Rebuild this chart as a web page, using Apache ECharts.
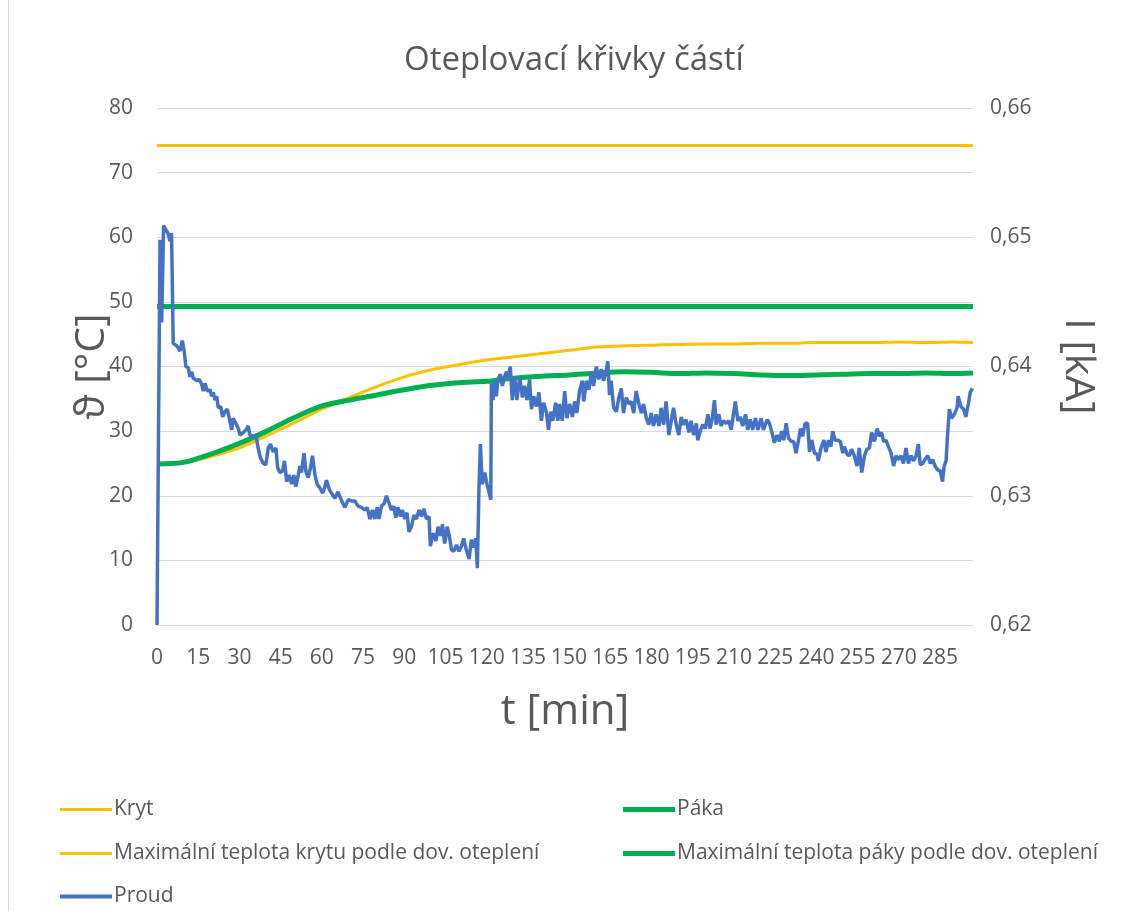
<!DOCTYPE html>
<html>
<head>
<meta charset="utf-8">
<title>Oteplovací křivky částí</title>
<script src="https://cdn.jsdelivr.net/npm/echarts@6/dist/echarts.min.js"></script>
<style>
  html, body { margin:0; padding:0; background:#fff; }
  #chart { width:1126px; height:911px; }
</style>
</head>
<body>
<div id="chart"></div>
<script type="text/javascript">
// čas pro teploty [min]
var tempTime = [0,10,20,30,40,50,60,70,80,90,100,110,120,130,140,150,160,170,180,190,200,210,220,230,240,250,260,270,280,290,297];
// teplota krytu [°C]
var krytTemp = [24.9,25.1,26.1,27.4,29.3,31.3,33.4,35.2,36.9,38.4,39.5,40.3,41.0,41.5,42.0,42.5,43.0,43.2,43.3,43.4,43.5,43.5,43.6,43.6,43.7,43.7,43.7,43.8,43.7,43.8,43.7];
// teplota páky [°C]
var pakaTemp = [24.9,25.2,26.5,28.1,30.0,32.1,33.9,34.8,35.6,36.4,37.1,37.5,37.7,38.2,38.5,38.7,39.0,39.2,39.1,38.9,39.0,38.9,38.7,38.6,38.7,38.8,38.9,38.9,39.0,38.9,39.0];
// max. teploty podle dov. oteplení [°C]
var maxKryt = 74.2;
var maxPaka = 49.3;
// proud [min, kA]
var proud = [
 [0,0.6200],[1.1,0.6498],[1.7,0.6434],[2.4,0.6509],[2.9,0.6508],[4.0,0.6503],[4.7,0.6497],[5.3,0.6503],[5.9,0.6418],[7.2,0.6416],
 [8.4,0.6412],[9.2,0.6420],[9.9,0.6412],[10.5,0.6400],[11.4,0.6399],[12.0,0.6392],[12.6,0.6396],[13.2,0.6391],[14.4,0.6389],[15.4,0.6390],
 [16.3,0.6386],[16.8,0.6381],[17.5,0.6387],[18.3,0.6381],[19.3,0.6382],[19.9,0.6377],[20.5,0.6380],[21.1,0.6374],[21.7,0.6377],[22.3,0.6368],
 [23.2,0.6369],[23.9,0.6361],[24.7,0.6365],[25.6,0.6367],[26.3,0.6360],[27.2,0.6351],[27.7,0.6360],[28.7,0.6356],[29.6,0.6352],[30.2,0.6347],
 [31.4,0.6349],[32.4,0.6351],[33.2,0.6354],[33.8,0.6347],[35.0,0.6346],[36.0,0.6347],[36.8,0.6337],[37.7,0.6329],[38.7,0.6325],[39.6,0.6324],
 [40.5,0.6337],[41.3,0.6340],[42.3,0.6334],[43.3,0.6337],[43.9,0.6322],[44.7,0.6318],[45.7,0.6319],[46.4,0.6327],[47.2,0.6311],[48.1,0.6316],
 [49.0,0.6309],[49.8,0.6316],[50.5,0.6307],[51.4,0.6316],[52.0,0.6323],[52.6,0.6318],[53.5,0.6333],[54.2,0.6319],[55.0,0.6314],[55.9,0.6322],
 [56.6,0.6331],[57.5,0.6316],[58.3,0.6309],[59.3,0.6306],[60.3,0.6302],[61.1,0.6307],[61.7,0.6312],[62.7,0.6305],[63.5,0.6302],[64.7,0.6298],
 [65.9,0.6303],[67.2,0.6296],[68.4,0.6291],[69.6,0.6297],[70.8,0.6296],[72.0,0.6296],[73.2,0.6292],[74.4,0.6291],[75.6,0.6289],[76.5,0.6291],
 [77.5,0.6282],[78.4,0.6289],[79.3,0.6282],[80.1,0.6291],[80.8,0.6282],[81.7,0.6292],[82.7,0.6294],[83.5,0.6300],[84.5,0.6294],[85.3,0.6289],
 [86.2,0.6292],[86.9,0.6283],[87.7,0.6291],[88.6,0.6284],[89.3,0.6289],[90.2,0.6282],[91.0,0.6287],[91.7,0.6272],[92.6,0.6276],[93.5,0.6285],
 [94.4,0.6282],[95.4,0.6289],[96.3,0.6284],[97.1,0.6290],[98.1,0.6282],[99.0,0.6284],[99.5,0.6261],[100.5,0.6271],[101.5,0.6265],[102.3,0.6276],
 [103.2,0.6269],[103.9,0.6278],[104.7,0.6263],[105.6,0.6276],[106.3,0.6270],[107.2,0.6258],[108.0,0.6257],[109.0,0.6262],[109.9,0.6257],[110.8,0.6261],
 [111.6,0.6267],[112.6,0.6258],[113.6,0.6251],[114.4,0.6266],[115.3,0.6260],[116.0,0.6267],[116.6,0.6244],[117.2,0.6307],[117.7,0.6340],[118.4,0.6309],
 [119.3,0.6318],[120.1,0.6309],[121.5,0.6297],[121.7,0.6387],[122.3,0.6374],[122.9,0.6389],[123.5,0.6377],[124.1,0.6390],[125.0,0.6394],[125.7,0.6385],
 [126.5,0.6392],[127.2,0.6396],[127.7,0.6391],[128.6,0.6400],[129.3,0.6374],[130.2,0.6392],[131.0,0.6374],[132.0,0.6392],[133.0,0.6376],[133.8,0.6385],
 [134.7,0.6374],[135.6,0.6390],[136.3,0.6367],[137.1,0.6377],[138.1,0.6369],[139.0,0.6380],[139.9,0.6358],[140.7,0.6372],[141.7,0.6365],[142.5,0.6351],
 [143.3,0.6365],[144.1,0.6358],[145.1,0.6372],[145.9,0.6358],[146.5,0.6371],[147.5,0.6358],[148.4,0.6381],[149.2,0.6360],[150.2,0.6371],[151.2,0.6361],
 [152.0,0.6373],[152.8,0.6364],[153.8,0.6381],[154.8,0.6389],[155.3,0.6373],[156.3,0.6389],[157.2,0.6382],[158.1,0.6396],[158.9,0.6385],[159.9,0.6400],
 [160.8,0.6390],[161.7,0.6398],[162.5,0.6389],[163.3,0.6395],[164.1,0.6404],[164.7,0.6378],[165.3,0.6389],[166.2,0.6368],[167.2,0.6365],[168.1,0.6376],
 [169.0,0.6383],[169.8,0.6364],[170.8,0.6376],[171.7,0.6371],[172.6,0.6373],[173.5,0.6364],[174.4,0.6381],[175.4,0.6371],[176.3,0.6364],[177.1,0.6371],
 [178.1,0.6360],[179.0,0.6355],[179.9,0.6364],[180.7,0.6354],[181.7,0.6363],[182.7,0.6354],[183.5,0.6368],[184.4,0.6355],[185.3,0.6373],[186.3,0.6347],
 [187.2,0.6358],[188.0,0.6368],[189.0,0.6355],[189.9,0.6347],[190.8,0.6361],[191.6,0.6355],[192.6,0.6359],[193.6,0.6349],[194.4,0.6358],[195.3,0.6347],
 [196.3,0.6356],[196.8,0.6343],[197.7,0.6350],[198.7,0.6355],[199.6,0.6352],[200.5,0.6363],[201.3,0.6352],[202.1,0.6360],[202.9,0.6374],[203.5,0.6355],
 [204.5,0.6363],[205.3,0.6354],[206.2,0.6358],[207.2,0.6356],[208.1,0.6358],[209.0,0.6351],[209.8,0.6363],[210.5,0.6373],[211.4,0.6358],[212.3,0.6361],
 [213.2,0.6354],[214.2,0.6363],[215.0,0.6351],[215.9,0.6359],[216.8,0.6351],[217.8,0.6360],[218.7,0.6351],[219.9,0.6360],[220.7,0.6351],[222.1,0.6359],
 [222.9,0.6356],[223.7,0.6350],[224.7,0.6341],[225.7,0.6347],[226.5,0.6342],[227.4,0.6350],[228.1,0.6343],[229.0,0.6356],[229.8,0.6345],[230.8,0.6342],
 [231.7,0.6342],[232.6,0.6333],[233.5,0.6343],[234.2,0.6352],[235.0,0.6346],[235.9,0.6356],[236.8,0.6356],[237.5,0.6334],[238.3,0.6343],[239.3,0.6333],
 [240.3,0.6332],[240.7,0.6327],[241.7,0.6337],[242.7,0.6343],[243.5,0.6334],[244.4,0.6343],[245.3,0.6338],[245.9,0.6350],[246.8,0.6343],[247.7,0.6343],
 [248.7,0.6342],[249.6,0.6333],[250.2,0.6338],[251.2,0.6332],[252.0,0.6331],[252.8,0.6336],[253.8,0.6331],[254.8,0.6323],[255.6,0.6337],[256.5,0.6318],
 [257.5,0.6331],[258.4,0.6336],[259.3,0.6337],[260.1,0.6349],[261.1,0.6342],[262.1,0.6352],[262.9,0.6346],[263.7,0.6349],[264.5,0.6342],[265.3,0.6343],
 [266.2,0.6338],[267.2,0.6333],[268.1,0.6323],[269.0,0.6331],[269.8,0.6328],[270.8,0.6331],[271.7,0.6325],[272.6,0.6337],[273.5,0.6325],[274.4,0.6331],
 [275.4,0.6327],[276.3,0.6331],[277.1,0.6340],[277.8,0.6324],[278.7,0.6325],[279.5,0.6328],[280.5,0.6331],[281.5,0.6325],[282.3,0.6328],[283.2,0.6323],
 [284.1,0.6320],[285.1,0.6319],[285.9,0.6311],[286.5,0.6323],[287.2,0.6327],[287.7,0.6346],[288.4,0.6367],[289.2,0.6360],[290.2,0.6363],[291.2,0.6368],
 [291.6,0.6377],[292.6,0.6369],[293.6,0.6367],[294.4,0.6361],[295.3,0.6371],[296.0,0.6380],[296.8,0.6383]
];
// osa x: popisky po 15 min
var xTickStep = 15;
var xMax = 297;

var textColor = '#595959';
var gridColor = '#D9D9D9';
var font = 'Open Sans';

function zipTime(vals) {
  var out = [];
  for (var i = 0; i < tempTime.length; i++) {
    out.push([tempTime[i], vals[i]]);
  }
  return out;
}
function constLine(v) {
  var out = [];
  for (var i = 0; i < tempTime.length; i++) {
    out.push([tempTime[i], v]);
  }
  return out;
}
function legendItem(name, color, h, left, top) {
  return {
    data: [{ name: name, icon: 'rect', itemStyle: { color: color } }],
    left: left, top: top,
    itemWidth: 52, itemHeight: h,
    selectedMode: false,
    textStyle: { color: textColor, fontSize: 21, fontFamily: font, padding: [0, 0, 0, -3] }
  };
}

var myChart = echarts.init(document.getElementById('chart'));
myChart.setOption({
  animation: false,
  backgroundColor: '#fff',
  title: {
    text: 'Oteplovací křivky částí',
    left: 399, top: 39,
    textStyle: { color: textColor, fontSize: 33, fontWeight: 'normal', fontFamily: font }
  },
  graphic: [{
    type: 'line',
    shape: { x1: 8.5, y1: 0, x2: 8.5, y2: 911 },
    style: { stroke: gridColor, lineWidth: 1 },
    silent: true
  }],
  legend: [
    legendItem('Kryt', '#FFC000', 3, 55, 794),
    legendItem('Páka', '#00B050', 5, 618, 794),
    legendItem('Maximální teplota krytu podle dov. oteplení', '#FFC000', 3, 55, 838),
    legendItem('Maximální teplota páky podle dov. oteplení', '#00B050', 5, 618, 838),
    legendItem('Proud', '#4472C4', 4, 55, 881)
  ],
  grid: { left: 157, right: 153, top: 108, bottom: 286 },
  xAxis: {
    type: 'value',
    min: 0, max: xMax, interval: xTickStep,
    name: 't [min]', nameLocation: 'middle', nameGap: 66,
    nameTextStyle: { color: textColor, fontSize: 42, fontFamily: font },
    axisLine: { show: true, lineStyle: { color: gridColor, width: 1 } },
    axisTick: { show: false },
    splitLine: { show: false },
    axisLabel: { color: textColor, fontSize: 21, fontFamily: font, margin: 23, showMaxLabel: false }
  },
  yAxis: [{
    type: 'value',
    min: 0, max: 80, interval: 10,
    name: 'ϑ [°C]', nameLocation: 'middle', nameRotate: 90, nameGap: 44,
    nameMoveOverlap: false,
    nameTextStyle: { color: textColor, fontSize: 41, fontFamily: font },
    axisLine: { show: false },
    axisTick: { show: false },
    splitLine: { lineStyle: { color: gridColor, width: 1 } },
    axisLabel: { color: textColor, fontSize: 21, fontFamily: font, margin: 24 }
  }, {
    type: 'value',
    min: 0.62, max: 0.66, interval: 0.01,
    name: 'I [kA]', nameLocation: 'middle', nameRotate: -90, nameGap: 84,
    nameTextStyle: { color: textColor, fontSize: 41, fontFamily: font },
    axisLine: { show: false },
    axisTick: { show: false },
    splitLine: { show: false },
    axisLabel: {
      color: textColor, fontSize: 21, fontFamily: font, margin: 17,
      formatter: function (v) { return v.toFixed(2).replace('.', ','); }
    }
  }],
  series: [{
    name: 'Kryt', type: 'line', yAxisIndex: 0,
    showSymbol: false, smooth: 0.3, color: '#FFC000',
    lineStyle: { width: 3, color: '#FFC000' },
    data: zipTime(krytTemp)
  }, {
    name: 'Páka', type: 'line', yAxisIndex: 0,
    showSymbol: false, smooth: 0.3, color: '#00B050',
    lineStyle: { width: 5, color: '#00B050' },
    data: zipTime(pakaTemp)
  }, {
    name: 'Maximální teplota krytu podle dov. oteplení', type: 'line', yAxisIndex: 0,
    showSymbol: false, color: '#FFC000',
    lineStyle: { width: 3, color: '#FFC000' },
    data: constLine(maxKryt)
  }, {
    name: 'Maximální teplota páky podle dov. oteplení', type: 'line', yAxisIndex: 0,
    showSymbol: false, color: '#00B050',
    lineStyle: { width: 5, color: '#00B050' },
    data: constLine(maxPaka)
  }, {
    name: 'Proud', type: 'line', yAxisIndex: 1,
    showSymbol: false, color: '#4472C4',
    lineStyle: { width: 3.5, color: '#4472C4' },
    data: proud
  }]
});
</script>
</body>
</html>
